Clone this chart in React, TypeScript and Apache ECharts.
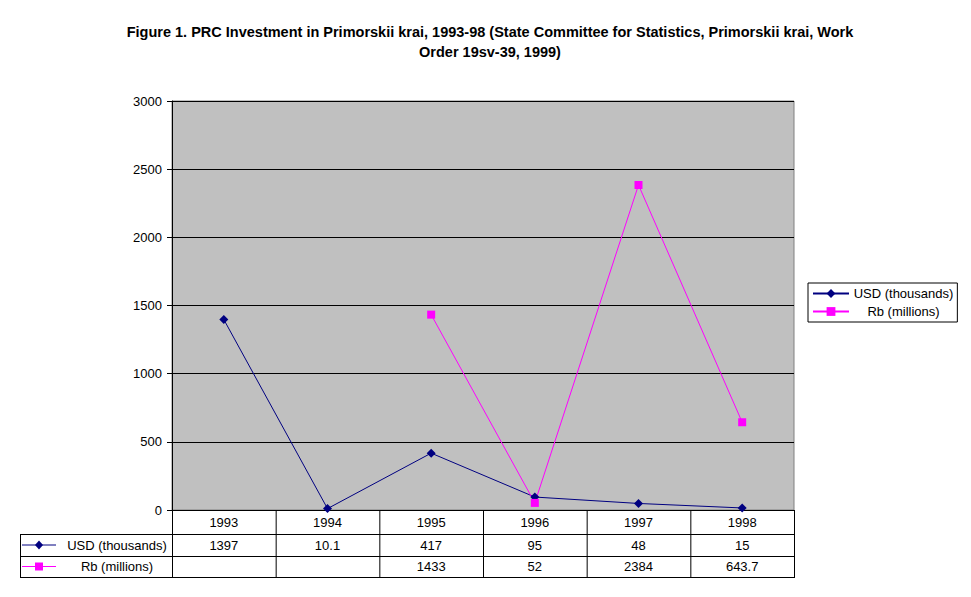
import React, { useEffect, useRef } from "react";
import * as echarts from "echarts";

const years = ["1993", "1994", "1995", "1996", "1997", "1998"];
const usd: (number | null)[] = [1397, 10.1, 417, 95, 48, 15];
const rb: (number | null)[] = [null, null, 1433, 52, 2384, 643.7];
const seriesNames = ["USD (thousands)", "Rb (millions)"];
const yTicks = { min: 0, max: 3000, interval: 500 };
const titleText =
  "Figure 1. PRC Investment in Primorskii krai, 1993-98 (State Committee for Statistics, Primorskii krai, Work\nOrder 19sv-39, 1999)";

const FONT = "'Liberation Sans', Arial, sans-serif";
const NAVY = "#000080";
const MAGENTA = "#FF00FF";

export default function App() {
  const ref = useRef<HTMLDivElement>(null);
  useEffect(() => {
    if (!ref.current) return;
    const chart = echarts.init(ref.current, undefined, { renderer: "svg" });
    chart.setOption({
      animation: false,
      backgroundColor: "#ffffff",
      textStyle: { fontFamily: FONT },
      title: {
        text: titleText,
        left: 485,
        top: 17,
        textAlign: "center",
        textStyle: {
          fontFamily: FONT,
          fontSize: 14.5,
          fontWeight: "bold",
          color: "#000",
          lineHeight: 20,
          align: "center",
        },
      },
      legend: {
        orient: "vertical",
        left: 808,
        top: 283,
        backgroundColor: "#fff",
        borderColor: "#000",
        borderWidth: 1,
        borderRadius: 0,
        padding: [4, 4, 4, 4],
        itemGap: 5,
        itemWidth: 36,
        itemHeight: 11,
        formatter: "{c|{name}}",
        textStyle: {
          fontFamily: FONT,
          fontSize: 13,
          color: "#000",
          rich: { c: { width: 99, align: "center", fontFamily: FONT, fontSize: 13, color: "#000" } },
        },
        data: seriesNames,
      },
      grid: {
        left: 172,
        top: 101,
        right: 177,
        bottom: 87,
        show: true,
        backgroundColor: "#C0C0C0",
        borderColor: "#808080",
        borderWidth: 1,
      },
      xAxis: {
        type: "category",
        data: years,
        boundaryGap: true,
        axisLine: { lineStyle: { color: "#000", width: 1 } },
        axisTick: { show: false },
        axisLabel: { fontFamily: FONT, fontSize: 13, color: "#000", margin: 6 },
        splitLine: { show: false },
      },
      yAxis: {
        type: "value",
        min: yTicks.min,
        max: yTicks.max,
        interval: yTicks.interval,
        axisLine: { show: true, lineStyle: { color: "#000", width: 1 } },
        axisTick: { show: true, length: 5, lineStyle: { color: "#000" } },
        axisLabel: {
          fontFamily: FONT,
          fontSize: 13,
          color: "#000",
          margin: 10,
          formatter: (v: number) => String(v),
        },
        splitLine: { show: true, lineStyle: { color: "#000", width: 1 } },
      },
      series: [
        {
          name: seriesNames[0],
          type: "line",
          data: usd,
          symbol: "diamond",
          symbolSize: 9,
          lineStyle: { color: NAVY, width: 1 },
          itemStyle: { color: NAVY },
          connectNulls: false,
        },
        {
          name: seriesNames[1],
          type: "line",
          data: rb,
          symbol: "rect",
          symbolSize: 8,
          lineStyle: { color: MAGENTA, width: 1 },
          itemStyle: { color: MAGENTA },
          connectNulls: false,
        },
      ],
    });

    // Build data table using the axis scales
    const c0 = chart.convertToPixel({ xAxisIndex: 0 }, 0) as number;
    const c1 = chart.convertToPixel({ xAxisIndex: 0 }, 1) as number;
    const band = c1 - c0;
    const xLeft = c0 - band / 2;
    const xRight = xLeft + band * years.length;
    const yBase = chart.convertToPixel({ yAxisIndex: 0 }, 0) as number;
    const rowH = [24, 22, 21];
    const r1 = yBase + rowH[0];
    const r2 = r1 + rowH[1];
    const r3 = r2 + rowH[2];
    const tableLeft = 20;
    const lineStyle = { stroke: "#000", lineWidth: 1 };
    const g: any[] = [];
    const hl = (x1: number, x2: number, y: number) =>
      g.push({ type: "line", shape: { x1, y1: y + 0.5, x2, y2: y + 0.5 }, style: lineStyle, silent: true });
    const vl = (x: number, y1: number, y2: number) =>
      g.push({ type: "line", shape: { x1: x + 0.5, y1, x2: x + 0.5, y2 }, style: lineStyle, silent: true });
    hl(tableLeft, xRight, r1);
    hl(tableLeft, xRight, r2);
    hl(tableLeft, xRight, r3);
    vl(tableLeft, r1, r3 + 1);
    for (let i = 0; i <= years.length; i++) vl(xLeft + band * i, yBase, r3 + 1);

    const rows = [
      { vals: usd, y: (r1 + r2) / 2, color: NAVY, sym: "diamond" },
      { vals: rb, y: (r2 + r3) / 2, color: MAGENTA, sym: "rect" },
    ];
    rows.forEach((row, ri) => {
      g.push({
        type: "line",
        shape: { x1: 22, y1: row.y, x2: 56, y2: row.y },
        style: { stroke: row.color, lineWidth: 1 },
        silent: true,
      });
      if (row.sym === "diamond") {
        g.push({
          type: "polygon",
          shape: { points: [[39, row.y - 4.5], [43, row.y], [39, row.y + 4.5], [35, row.y]] },
          style: { fill: row.color },
          silent: true,
        });
      } else {
        g.push({
          type: "rect",
          shape: { x: 35, y: row.y - 4, width: 8, height: 8 },
          style: { fill: row.color },
          silent: true,
        });
      }
      g.push({
        type: "text",
        x: 117,
        y: row.y,
        style: {
          text: seriesNames[ri],
          font: `13px ${FONT}`,
          fill: "#000",
          align: "center",
          verticalAlign: "middle",
        },
        silent: true,
      });
      row.vals.forEach((v, i) => {
        if (v === null) return;
        const cx = chart.convertToPixel({ xAxisIndex: 0 }, i) as number;
        g.push({
          type: "text",
          x: cx,
          y: row.y,
          style: {
            text: String(v),
            font: `13px ${FONT}`,
            fill: "#000",
            align: "center",
            verticalAlign: "middle",
          },
          silent: true,
        });
      });
    });
    chart.setOption({ graphic: g });

    return () => chart.dispose();
  }, []);
  return (
    <div
      ref={ref}
      style={{ position: "fixed", left: 0, top: 0, width: 971, height: 597 }}
    />
  );
}
